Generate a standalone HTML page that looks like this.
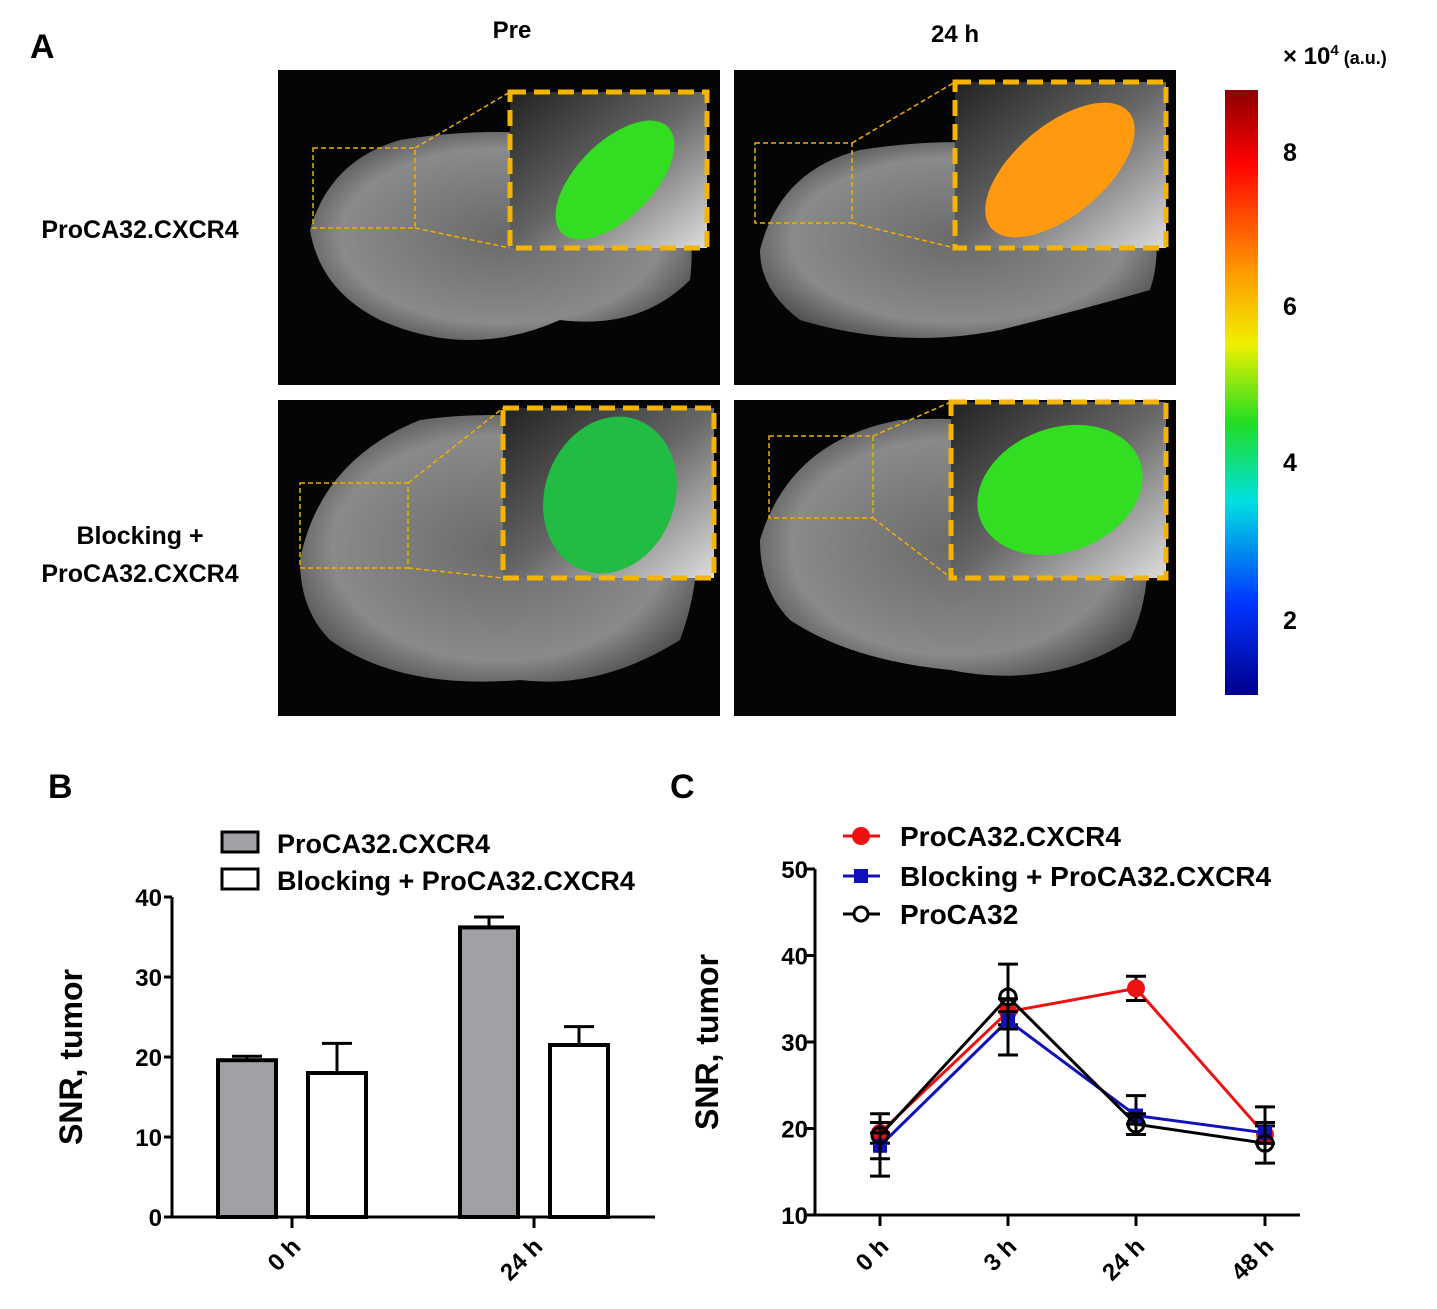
<!DOCTYPE html>
<html><head><meta charset="utf-8"><style>
body{margin:0;background:#fff}
svg{display:block;font-family:"Liberation Sans",Arial,sans-serif;font-weight:bold}
</style></head><body>
<svg id="fig" width="1437" height="1309" viewBox="0 0 1437 1309">
<defs>
<linearGradient id="cb" x1="0" y1="0" x2="0" y2="1">
<stop offset="0" stop-color="#8b0000"/><stop offset="0.12" stop-color="#ff0000"/><stop offset="0.3" stop-color="#ff9900"/><stop offset="0.42" stop-color="#f0f000"/><stop offset="0.55" stop-color="#22dd22"/><stop offset="0.68" stop-color="#00e0e0"/><stop offset="0.85" stop-color="#0033ff"/><stop offset="1" stop-color="#00008b"/>
</linearGradient>
<radialGradient id="body" cx="0.5" cy="0.5" r="0.6"><stop offset="0" stop-color="#6a6a6a"/><stop offset="0.7" stop-color="#8a8a8a"/><stop offset="1" stop-color="#444"/></radialGradient>
<linearGradient id="ins" x1="0" y1="0" x2="1" y2="1"><stop offset="0" stop-color="#222"/><stop offset="0.5" stop-color="#666"/><stop offset="1" stop-color="#ddd"/></linearGradient>
</defs>
<text x="30" y="58" font-size="34">A</text>
<text x="512" y="38" font-size="24" text-anchor="middle">Pre</text>
<text x="955" y="42" font-size="24" text-anchor="middle">24 h</text>
<text x="140" y="238" font-size="25" text-anchor="middle">ProCA32.CXCR4</text>
<text x="140" y="544" font-size="25" text-anchor="middle">Blocking +</text>
<text x="140" y="582" font-size="25" text-anchor="middle">ProCA32.CXCR4</text>
<g>
<rect x="278" y="70" width="442" height="315" fill="#050505"/>
<path d="M310 230 Q330 160 400 140 Q520 120 650 150 Q700 200 690 280 Q640 330 560 320 Q470 360 380 320 Q320 290 310 230Z" fill="url(#body)"/>
<rect x="313" y="148" width="102" height="80" fill="none" stroke="#f0b000" stroke-width="1.5" stroke-dasharray="5 3"/>
<path d="M415 148 L510 92 M415 228 L510 248" stroke="#f0b000" stroke-width="1.5" stroke-dasharray="5 3"/>
<rect x="510" y="92" width="197" height="156" fill="url(#ins)"/>
<ellipse cx="615" cy="180" rx="75" ry="38" transform="rotate(-45 615 180)" fill="#33dd22"/>
<rect x="510" y="92" width="197" height="156" fill="none" stroke="#f5b400" stroke-width="5" stroke-dasharray="16 8"/>
</g>
<g>
<rect x="734" y="70" width="442" height="315" fill="#050505"/>
<path d="M760 250 Q780 170 860 150 Q980 130 1130 160 Q1170 230 1150 290 Q1080 310 1000 330 Q900 350 800 320 Q760 290 760 250Z" fill="url(#body)"/>
<rect x="755" y="143" width="97" height="80" fill="none" stroke="#f0b000" stroke-width="1.5" stroke-dasharray="5 3"/>
<path d="M852 143 L955 82 M852 223 L955 248" stroke="#f0b000" stroke-width="1.5" stroke-dasharray="5 3"/>
<rect x="955" y="82" width="211" height="166" fill="url(#ins)"/>
<ellipse cx="1060" cy="170" rx="90" ry="45" transform="rotate(-40 1060 170)" fill="#ff9a10"/>
<rect x="955" y="82" width="211" height="166" fill="none" stroke="#f5b400" stroke-width="5" stroke-dasharray="16 8"/>
</g>
<g>
<rect x="278" y="400" width="442" height="316" fill="#050505"/>
<path d="M300 560 Q320 460 420 420 Q560 400 690 460 Q710 560 680 640 Q600 690 520 680 Q400 690 330 640 Q300 610 300 560Z" fill="url(#body)"/>
<rect x="300" y="483" width="108" height="85" fill="none" stroke="#f0b000" stroke-width="1.5" stroke-dasharray="5 3"/>
<path d="M408 483 L503 408 M408 568 L503 578" stroke="#f0b000" stroke-width="1.5" stroke-dasharray="5 3"/>
<rect x="503" y="408" width="211" height="170" fill="url(#ins)"/>
<ellipse cx="610" cy="495" rx="65" ry="80" transform="rotate(20 610 495)" fill="#22bb44"/>
<rect x="503" y="408" width="211" height="170" fill="none" stroke="#f5b400" stroke-width="5" stroke-dasharray="16 8"/>
</g>
<g>
<rect x="734" y="400" width="442" height="316" fill="#050505"/>
<path d="M760 540 Q790 440 900 420 Q1050 410 1140 480 Q1160 580 1130 640 Q1050 690 950 670 Q850 660 790 620 Q760 590 760 540Z" fill="url(#body)"/>
<rect x="769" y="436" width="104" height="82" fill="none" stroke="#f0b000" stroke-width="1.5" stroke-dasharray="5 3"/>
<path d="M873 436 L951 402 M873 518 L951 578" stroke="#f0b000" stroke-width="1.5" stroke-dasharray="5 3"/>
<rect x="951" y="402" width="215" height="176" fill="url(#ins)"/>
<ellipse cx="1060" cy="490" rx="85" ry="62" transform="rotate(-20 1060 490)" fill="#33dd22"/>
<rect x="951" y="402" width="215" height="176" fill="none" stroke="#f5b400" stroke-width="5" stroke-dasharray="16 8"/>
</g>
<g>
<rect x="1225" y="90" width="33" height="605" fill="url(#cb)"/>
<text x="1283" y="64" font-size="24">× 10<tspan font-size="15" dy="-9">4</tspan><tspan font-size="18" dy="9"> (a.u.)</tspan></text>
<text x="1283" y="161" font-size="25">8</text><text x="1283" y="315" font-size="25">6</text><text x="1283" y="471" font-size="25">4</text><text x="1283" y="629" font-size="25">2</text>
</g>
<text x="48" y="798" font-size="34">B</text>
<text x="670" y="798" font-size="34">C</text>
<g id="chartB"></g>
<g id="chartC"></g>
</svg>
<script>
const NS="http://www.w3.org/2000/svg";
function mk(p,t,a,txt){const e=document.createElementNS(NS,t);for(const k in a)e.setAttribute(k,a[k]);if(txt!==undefined)e.textContent=txt;p.appendChild(e);return e;}
// Chart B data
const bCats=["0 h","24 h"];
const bSeriesNames=["ProCA32.CXCR4","Blocking + ProCA32.CXCR4"];
const bValsGrey=[19.6,36.2];
const bErrGrey=[0.5,1.3];
const bValsWhite=[18.0,21.5];
const bErrWhite=[3.7,2.3];
const bTicks=[0,10,20,30,40];
// Chart C data
const cCats=["0 h","3 h","24 h","48 h"];
const cNames=["ProCA32.CXCR4","Blocking + ProCA32.CXCR4","ProCA32"];
const cRed=[19.5,33.5,36.2,19.3];
const cRedLo=[1.2,1.5,1.4,1.0];
const cRedHi=[1.2,1.5,1.4,1.0];
const cBlue=[18.0,32.5,21.5,19.5];
const cBlueLo=[1.5,1.0,1.0,1.2];
const cBlueHi=[1.5,1.0,2.3,1.2];
const cBlack=[19.2,35.2,20.5,18.3];
const cBlackLo=[4.7,6.7,1.2,2.3];
const cBlackHi=[2.5,3.8,1.2,4.2];
const cTicks=[10,20,30,40,50];

(function(){
const g=document.getElementById('chartB');
const y=v=>1217-v*8, ax=172, groupX=[292,534];
mk(g,'line',{x1:ax,y1:897,x2:ax,y2:1218,stroke:'#000','stroke-width':3});
mk(g,'line',{x1:ax-1,y1:1217,x2:655,y2:1217,stroke:'#000','stroke-width':3});
bTicks.forEach(t=>{mk(g,'line',{x1:ax-8,y1:y(t),x2:ax,y2:y(t),stroke:'#000','stroke-width':3});
const tl=mk(g,'text',{x:ax-10,y:y(t)+9,'font-size':24,'text-anchor':'end'},t);

});
bCats.forEach((c,i)=>{const gx=groupX[i];
mk(g,'line',{x1:gx,y1:1217,x2:gx,y2:1228,stroke:'#000','stroke-width':3});
const tl=mk(g,'text',{x:gx+10,y:1248,'font-size':24,'text-anchor':'end',transform:`rotate(-45 ${gx+10} 1248)`},c);


[[bValsGrey,bErrGrey,'#a0a0a5',-45],[bValsWhite,bErrWhite,'#fff',45]].forEach(([vals,errs,col,off])=>{
const cx=gx+off, v=vals[i];
mk(g,'line',{x1:cx,y1:y(v),x2:cx,y2:y(v+errs[i]),stroke:'#000','stroke-width':3});
mk(g,'line',{x1:cx-15,y1:y(v+errs[i]),x2:cx+15,y2:y(v+errs[i]),stroke:'#000','stroke-width':3});
const r=mk(g,'rect',{x:cx-29,y:y(v),width:58,height:y(0)-y(v),fill:col,stroke:'#000','stroke-width':4});

});});
const yt=mk(g,'text',{x:82,y:1057,'font-size':32,'text-anchor':'middle',transform:'rotate(-90 82 1057)'},'SNR, tumor');


[['#a0a0a5',bSeriesNames[0],843],['#fff',bSeriesNames[1],880]].forEach(([col,n,ly])=>{
const le=mk(g,'g',{});


mk(le,'rect',{x:222,y:ly-11,width:36,height:20,fill:col,stroke:'#000','stroke-width':3});
mk(le,'text',{x:277,y:ly+10,'font-size':27},n);});
})();

(function(){
const g=document.getElementById('chartC');
const y=v=>1215-(v-10)*8.65, ax=815, xs=[880,1008,1136,1265];
mk(g,'line',{x1:ax,y1:869,x2:ax,y2:1216,stroke:'#000','stroke-width':3});
mk(g,'line',{x1:ax-1,y1:1215,x2:1300,y2:1215,stroke:'#000','stroke-width':3});
cTicks.forEach(t=>{mk(g,'line',{x1:ax-8,y1:y(t),x2:ax,y2:y(t),stroke:'#000','stroke-width':3});
const tl=mk(g,'text',{x:ax-7,y:y(t)+9,'font-size':24,'text-anchor':'end'},t);

});
cCats.forEach((c,i)=>{mk(g,'line',{x1:xs[i],y1:1215,x2:xs[i],y2:1226,stroke:'#000','stroke-width':3});
const tl=mk(g,'text',{x:xs[i]+10,y:1248,'font-size':24,'text-anchor':'end',transform:`rotate(-45 ${xs[i]+10} 1248)`},c);

});
const series=[[cRed,cRedLo,cRedHi,'#ee1111','circle'],[cBlue,cBlueLo,cBlueHi,'#1111bb','square'],[cBlack,cBlackLo,cBlackHi,'#000','open']];
series.forEach(([vals,lo,hi,col,shape],si)=>{
const sg=mk(g,'g',{});


mk(sg,'polyline',{points:vals.map((v,i)=>xs[i]+','+y(v)).join(' '),fill:'none',stroke:col,'stroke-width':3});
vals.forEach((v,i)=>{
mk(sg,'line',{x1:xs[i],y1:y(v-lo[i]),x2:xs[i],y2:y(v+hi[i]),stroke:'#000','stroke-width':3});
[v-lo[i],v+hi[i]].forEach(e=>mk(sg,'line',{x1:xs[i]-10,y1:y(e),x2:xs[i]+10,y2:y(e),stroke:'#000','stroke-width':3}));
let m;
if(shape==='circle')m=mk(sg,'circle',{cx:xs[i],cy:y(v),r:9,fill:col});
else if(shape==='square')m=mk(sg,'rect',{x:xs[i]-7,y:y(v)-7,width:14,height:14,fill:col});
else m=mk(sg,'circle',{cx:xs[i],cy:y(v),r:8,fill:'none',stroke:col,'stroke-width':3});

});});
const yt=mk(g,'text',{x:718,y:1042,'font-size':32,'text-anchor':'middle',transform:'rotate(-90 718 1042)'},'SNR, tumor');


[[836,'#ee1111','circle'],[876,'#1111bb','square'],[914,'#000','open']].forEach(([ly,col,sh],i)=>{
const le=mk(g,'g',{});


mk(le,'line',{x1:843,y1:ly,x2:880,y2:ly,stroke:col,'stroke-width':3});
if(sh==='circle')mk(le,'circle',{cx:861,cy:ly,r:9,fill:col});
else if(sh==='square')mk(le,'rect',{x:854,y:ly-7,width:14,height:14,fill:col});
else mk(le,'circle',{cx:861,cy:ly,r:7,fill:'#fff',stroke:col,'stroke-width':3});
mk(le,'text',{x:900,y:ly+10,'font-size':28},cNames[i]);});
})();
</script>
</body></html>
